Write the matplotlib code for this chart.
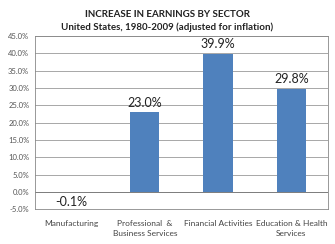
import numpy as np
import matplotlib.pyplot as plt

plt.rcParams['font.family'] = ['Lato', 'DejaVu Sans']

# Data
sectors = ['Manufacturing', 'Professional  &\nBusiness Services',
           'Financial Activities', 'Education & Health\nServices']
increase = [-0.1, 23.0, 39.9, 29.8]
yticks = np.arange(-5, 50, 5)

fig = plt.figure(figsize=(3.35, 2.44), dpi=100)
ax = fig.add_axes([0.104, 0.143, 0.875, 0.709])

x = np.arange(len(sectors))
bars = ax.bar(x, increase, width=0.4, color='#4F81BD', zorder=3)

# Data labels
for xi, v in zip(x, increase):
    off = 1.0 if v >= 0 else -1.2
    ax.text(xi, v + off, f'{v:.1f}%', ha='center',
            va='bottom' if v >= 0 else 'top', fontsize=9, color='#222222')

ax.set_ylim(-5, 45)
ax.set_xlim(-0.5, len(sectors) - 0.5)
ax.set_yticks(yticks)
ax.set_yticklabels([f'{t:.1f}%' for t in yticks], fontsize=5.5, color='#555555')
ax.set_xticks(x)
ax.set_xticklabels(sectors, fontsize=6, color='#444444', linespacing=1.4)
ax.tick_params(axis='both', length=0, pad=4)
ax.tick_params(axis='x', pad=8)
ax.grid(axis='y', color='#999999', linewidth=0.6, zorder=0)
ax.axhline(0, color='#777777', linewidth=0.6, zorder=2)
for s in ax.spines.values():
    s.set_color('#888888')
    s.set_linewidth(0.6)

fig.text(0.5, 0.93, 'INCREASE IN EARNINGS BY SECTOR', ha='center',
         fontsize=7, fontweight='bold', color='#222222')
fig.text(0.5, 0.878, 'United States, 1980-2009 (adjusted for inflation)',
         ha='center', fontsize=7, fontweight='bold', color='#222222')

fig.savefig('out.png', dpi=100)
